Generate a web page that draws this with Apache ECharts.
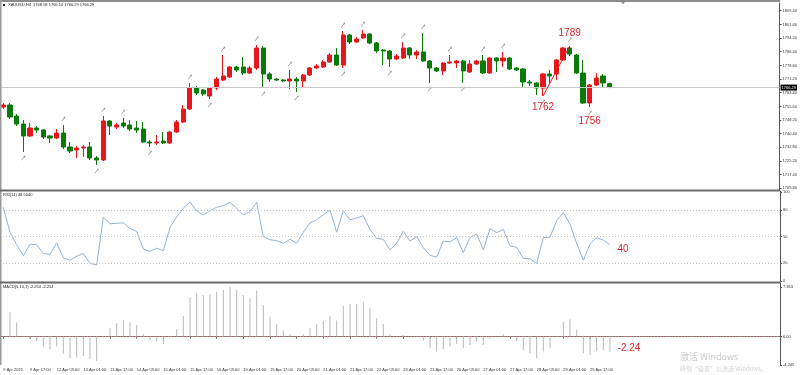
<!DOCTYPE html>
<html><head><meta charset="utf-8">
<script src="https://cdn.jsdelivr.net/npm/echarts@6/dist/echarts.min.js"></script>
<style>html,body{margin:0;padding:0;background:#fff}#c{width:800px;height:375px}</style>
</head><body><div id="c"></div><script>
// ---- data ----
const dateLabels = ['9 Apr 2021','9 Apr 17:00','12 Apr 09:00','13 Apr 01:00','13 Apr 17:00','14 Apr 09:00','15 Apr 01:00','15 Apr 17:00','16 Apr 09:00','19 Apr 01:00','19 Apr 17:00','20 Apr 09:00','21 Apr 01:00','21 Apr 17:00','22 Apr 09:00','23 Apr 01:00','23 Apr 17:00','26 Apr 09:00','27 Apr 01:00','27 Apr 17:00','28 Apr 09:00','29 Apr 01:00','29 Apr 17:00'];
const opens = [1755.38,1756.50,1750.34,1745.85,1739.12,1743.61,1742.48,1739.12,1737.99,1740.80,
1732.95,1731.26,1732.39,1732.95,1726.78,1725.66,1747.53,1744.16,1746.41,1745.29,
1743.61,1743.04,1735.75,1735.19,1736.31,1735.19,1741.36,1746.97,1754.26,1766.04,
1764.92,1761.55,1766.04,1770.53,1772.21,1777.82,1777.82,1774.45,1777.26,1788.48,
1773.89,1771.09,1770.53,1769.97,1771.09,1769.97,1773.33,1777.26,1777.82,1780.62,
1784.55,1778.94,1795.77,1791.84,1794.09,1796.33,1791.28,1787.36,1786.79,1782.31,
1782.87,1788.48,1784.55,1786.23,1781.19,1777.26,1775.58,1780.06,1780.06,1781.19,
1775.01,1779.50,1781.19,1774.45,1782.87,1781.19,1782.87,1777.26,1776.70,1769.41,
1768.85,1766.04,1773.89,1773.89,1781.75,1788.48,1784.55,1774.45,1757.63,1767.72,
1772.77,1768.58];
const closes = [1756.50,1749.77,1745.85,1739.12,1743.61,1742.48,1738.55,1737.99,1740.80,1732.95,
1730.70,1732.39,1732.95,1726.78,1725.66,1747.53,1744.73,1745.29,1744.73,1743.04,
1742.48,1735.75,1735.19,1735.75,1735.19,1741.36,1746.97,1754.26,1766.04,1763.24,
1762.68,1766.04,1771.09,1772.77,1777.82,1776.14,1774.45,1777.26,1788.48,1773.89,
1771.09,1770.53,1769.97,1771.09,1769.97,1773.33,1777.26,1778.38,1780.62,1784.55,
1778.94,1795.77,1791.84,1793.52,1796.33,1791.28,1786.79,1786.79,1782.31,1783.99,
1788.48,1784.55,1786.23,1781.19,1777.26,1775.58,1780.06,1780.62,1781.19,1775.58,
1779.50,1781.19,1774.45,1782.87,1781.19,1782.87,1776.70,1776.14,1769.41,1768.85,
1766.04,1773.89,1772.77,1781.75,1788.48,1785.11,1774.45,1757.63,1767.72,1771.65,
1768.85,1766.29];
const lows = [1754.26,1748.65,1744.73,1730.14,1738.55,1740.80,1737.43,1735.19,1737.43,1731.83,
1729.58,1726.78,1727.34,1725.66,1722.85,1725.10,1739.68,1743.04,1743.61,1741.92,
1740.80,1735.19,1732.95,1734.07,1734.63,1734.63,1740.80,1746.41,1753.70,1762.11,
1761.55,1759.87,1764.92,1769.97,1771.65,1775.01,1773.33,1773.89,1776.14,1766.04,
1769.41,1769.97,1769.41,1765.48,1763.80,1766.04,1772.77,1776.70,1777.26,1780.06,
1778.38,1777.26,1790.72,1791.28,1793.52,1790.72,1785.67,1778.94,1777.82,1781.75,
1782.31,1782.31,1782.31,1780.62,1768.85,1775.01,1773.33,1779.50,1777.26,1768.85,
1774.45,1778.94,1773.89,1773.89,1775.01,1777.82,1776.14,1775.58,1766.60,1767.16,
1762.11,1761.55,1768.85,1770.53,1781.19,1783.99,1773.89,1757.07,1755.38,1767.16,
1766.60,1766.29];
const highs = [1757.63,1757.63,1751.46,1748.09,1746.41,1744.73,1743.04,1739.68,1743.04,1745.29,
1735.75,1733.51,1734.07,1735.75,1727.90,1750.34,1748.09,1746.41,1749.21,1748.09,
1747.53,1746.97,1736.87,1739.68,1741.36,1741.92,1748.09,1756.50,1768.85,1767.16,
1765.48,1766.60,1772.21,1784.55,1778.38,1778.38,1783.43,1778.38,1790.16,1789.60,
1775.01,1771.65,1771.09,1776.14,1772.21,1773.89,1777.82,1779.50,1781.75,1785.67,
1788.48,1798.01,1796.33,1794.65,1798.57,1796.89,1791.84,1787.92,1787.36,1785.11,
1791.84,1789.04,1787.36,1796.89,1781.75,1777.82,1780.62,1784.55,1781.75,1781.75,
1781.75,1781.75,1784.55,1783.43,1783.43,1786.23,1783.43,1777.82,1777.26,1770.53,
1769.41,1774.45,1776.14,1782.31,1789.04,1789.60,1785.11,1781.75,1768.29,1774.45,
1773.89,1769.10];
const rsi = [83,55,41,28.5,41.5,41,31,30,43,26,
23.5,28,31,20,18,72,64.5,65,65.5,59,
56,36,33.5,37,34,60.5,72,82,89,79,
74.5,79,83,85,88.5,82,74.5,78,88.5,50,
46.5,45.5,42.5,47,42.5,55,65.5,69,74.5,80,
55,79,69,71,73.5,58,48,47,35,42.5,
56,45,50,37.5,29,27,45,44,49,32,
49,53,35,59,54.5,58,39.5,38,25.5,25,
20,49,49.5,68,77,64,42.5,23.5,41.5,49,
46,41];
const macd = [null,3.63,2.09,0.1,-0.40,-0.65,-1.49,-1.89,-1.49,-2.59,
-3.23,-3.13,-2.89,-3.38,-3.63,-0.10,1.24,1.99,2.49,2.09,
1.74,0.40,-0.50,-0.75,-1.09,-0.10,1.14,3.08,5.87,6.47,
6.22,6.32,6.72,6.97,7.46,6.97,6.22,5.72,6.87,4.73,
2.99,1.84,0.90,0.40,0.10,0.35,1.24,1.84,2.34,3.08,
2.39,4.58,4.88,4.88,5.12,4.23,2.74,1.89,0.35,0.10,
0.25,0.02,-0.02,-0.60,-1.74,-2.24,-1.89,-1.49,-1.09,-1.74,
-1.24,-0.75,-1.24,-0.25,0.02,0.35,-0.15,-0.65,-1.99,-2.49,
-3.23,-2.24,-1.74,-0.05,2.24,2.59,1.00,-2.49,-2.74,-2.14,
-1.99,-2.254];
const priceTicks = [1709.80,1717.40,1725.20,1732.80,1740.40,1748.20,1755.60,1763.40,1771.20,1778.60,1786.40,1794.20,1801.60,1809.40];
const rsiTicks = [0,20,50,80,100];
const rsiLevels = [80,50,20];
const macdTicks = [7.363,0,-4.245];
const fractalUp = [9,15,18,28,33,38,43,51,54,60,63,67,72,75,85];
const fractalDown = [3,14,22,31,39,44,51,58,64,69,81,88];
const headerText = 'XAUUSD,H4  1768.58 1769.10 1766.29 1766.29';
const rsiText = 'RSI(14) 48.5040';
const macdText = 'MACD(5,10,1) -2.254 -2.254';

// ---- build ----
const N = opens.length;
const SLOTS = 117;
const cats = Array.from({length: SLOTS}, (_, i) => 'b' + i);
const last = N - 1;
const RED = '#e5171c', GREEN = '#077a07', ANN = '#d9262c';
const smallFont = {fontSize: 4, color: '#333', fontFamily: 'Liberation Sans'};
const arrow = 'path://M1,10 L0,9 L7,2 L5,1 L10,0 L9,5 L8,3 Z';

function xAx(g, showLabel) {
  return {
    type: 'category', gridIndex: g, data: cats, boundaryGap: true,
    axisLine: {show: showLabel, lineStyle: {color: '#777', width: 1}},
    axisTick: {show: showLabel, alignWithLabel: true, length: 2,
      interval: (i) => i < N && i % 4 === 0, lineStyle: {color: '#666'}},
    axisLabel: {show: showLabel, interval: 0, align: 'left', margin: 3, hideOverlap: false,
      formatter: (v, i) => (i < N && i % 4 === 0) ? dateLabels[i / 4] : '', ...smallFont},
    splitLine: {show: false}
  };
}
function yAx(g, min, max, ticks, fmt) {
  return {
    type: 'value', gridIndex: g, position: 'right', min: min, max: max, scale: true,
    splitLine: {show: false},
    axisLine: {show: true, lineStyle: {color: '#555', width: 1}},
    axisTick: {show: true, length: 2, customValues: ticks, lineStyle: {color: '#555'}},
    axisLabel: {show: true, customValues: ticks, formatter: fmt, margin: 3, ...smallFont}
  };
}
function ann(coord, text, offset) {
  return {coord: coord, value: text, symbol: 'circle', symbolSize: 1,
    itemStyle: {color: 'rgba(0,0,0,0)'},
    label: {show: true, position: 'inside', formatter: text, offset: offset,
      color: ANN, fontSize: 10, fontFamily: 'Liberation Sans'}};
}

const option = {
  animation: false,
  backgroundColor: '#fff',
  grid: [
    {left: 0, right: 20, top: 3, height: 187},
    {left: 0, right: 20, top: 191, height: 91},
    {left: 0, right: 20, top: 283, height: 82}
  ],
  xAxis: [xAx(0, false), xAx(1, false), xAx(2, true)],
  yAxis: [
    yAx(0, 1708.83, 1813.72, priceTicks, v => v.toFixed(2)),
    yAx(1, -1.05, 101.35, rsiTicks, v => String(v)),
    yAx(2, -4.245, 8.01, macdTicks, v => v === 0 ? '0.00' : v.toFixed(3))
  ],
  series: [
    {
      type: 'candlestick', xAxisIndex: 0, yAxisIndex: 0, barWidth: 4.6,
      data: opens.map((o, i) => [o, closes[i], lows[i], highs[i]]),
      itemStyle: {color: RED, color0: GREEN, borderColor: RED, borderColor0: GREEN, borderWidth: 1},
      markLine: {
        symbol: 'none', silent: true, animation: false,
        data: [
          {yAxis: closes[last], lineStyle: {color: '#c8c8c8', type: 'solid', width: 1},
            label: {show: true, position: 'end', distance: 1, formatter: closes[last].toFixed(2),
              backgroundColor: '#000', color: '#fff', fontSize: 4, padding: [1, 1, 1, 1], fontFamily: 'Liberation Sans'}},
          [{coord: [81, lows[81]], lineStyle: {color: RED, type: 'solid', width: 1}, label: {show: false}},
           {coord: [85, highs[85]]}]
        ]
      },
      markPoint: {
        silent: true, animation: false,
        data: [
          ann([85, highs[85]], '1789', [0, -13]),
          ann([81, lows[81]], '1762', [0, 11]),
          ann([88, lows[88]], '1756', [0, 14])
        ]
      }
    },
    {
      type: 'scatter', xAxisIndex: 0, yAxisIndex: 0, silent: true,
      data: fractalUp.map(i => [i, highs[i]]),
      symbol: arrow, symbolSize: [4, 5], symbolOffset: [0, -6], itemStyle: {color: '#707070'}
    },
    {
      type: 'scatter', xAxisIndex: 0, yAxisIndex: 0, silent: true,
      data: fractalDown.map(i => [i, lows[i]]),
      symbol: arrow, symbolSize: [4, 5], symbolOffset: [0, 6], itemStyle: {color: '#707070'}
    },
    {
      type: 'line', xAxisIndex: 1, yAxisIndex: 1, data: rsi, symbol: 'none', silent: true,
      lineStyle: {color: '#93b4d4', width: 1},
      markLine: {
        symbol: 'none', silent: true, animation: false, label: {show: false},
        lineStyle: {color: '#c4c4c4', type: [1, 2], width: 1},
        data: rsiLevels.map(v => ({yAxis: v}))
      },
      markPoint: {silent: true, animation: false, data: [ann([last, rsi[last]], '40', [13, 5])]}
    },
    {
      type: 'bar', xAxisIndex: 2, yAxisIndex: 2, data: macd, barWidth: 1, silent: true,
      itemStyle: {color: '#b8b8b8'},
      markLine: {
        symbol: 'none', silent: true, animation: false, label: {show: false},
        lineStyle: {color: '#e07a7a', type: [1, 2], width: 1},
        data: [{yAxis: 0}]
      },
      markPoint: {silent: true, animation: false, data: [ann([last, macd[last]], '-2.24', [19, -3])]}
    }
  ],
  graphic: [
    {type: 'rect', shape: {x: 0, y: 0, width: 780, height: 2}, style: {fill: '#8c8c8c'}, z: 100},
    {type: 'rect', shape: {x: 0, y: 0, width: 1.5, height: 365}, style: {fill: '#9a9a9a'}, z: 100},
    {type: 'rect', shape: {x: 0, y: 189.5, width: 780, height: 2}, style: {fill: '#6b6b6b'}, z: 100},
    {type: 'rect', shape: {x: 0, y: 281.5, width: 780, height: 2}, style: {fill: '#6b6b6b'}, z: 100},
    {type: 'polygon', shape: {points: [[620, 1], [626, 1], [623, 4]]}, style: {fill: '#888'}, z: 101},
    {type: 'rect', shape: {x: 3, y: 4, width: 2, height: 2}, style: {fill: '#222'}, z: 100},
    {type: 'text', x: 8, y: 3, style: {text: headerText, fontSize: 4, fill: '#222', fontFamily: 'Liberation Sans'}, z: 100},
    {type: 'text', x: 3, y: 193, style: {text: rsiText, fontSize: 4, fill: '#222', fontFamily: 'Liberation Sans'}, z: 100},
    {type: 'text', x: 3, y: 285, style: {text: macdText, fontSize: 4, fill: '#222', fontFamily: 'Liberation Sans'}, z: 100},
    {type: 'text', x: 680, y: 352, style: {text: '激活 Windows', fontSize: 9, fill: '#c9c9c9', fontFamily: 'Noto Sans CJK SC'}, z: 100},
    {type: 'text', x: 680, y: 366, style: {text: '转到“设置”以激活 Windows。', fontSize: 6, fill: '#d2d2d2', fontFamily: 'Noto Sans CJK SC'}, z: 100}
  ]
};
const chart = echarts.init(document.getElementById('c'), null, {renderer: 'canvas'});
chart.setOption(option);
</script></body></html>
